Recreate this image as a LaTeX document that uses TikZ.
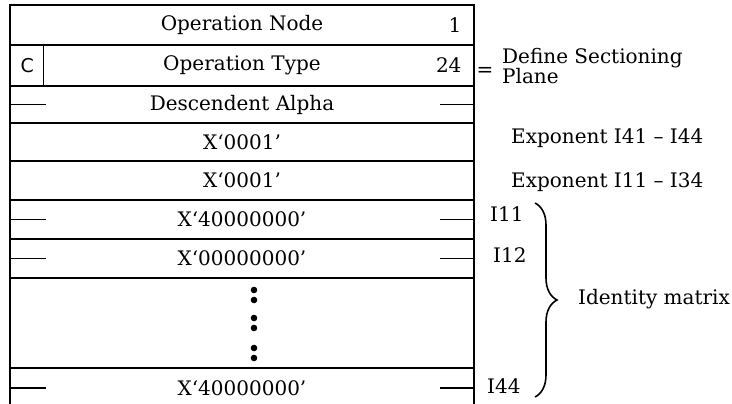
\documentclass[tikz,border=0pt]{standalone}
\usepackage{fontspec}
\setmainfont{DejaVu Serif}
\setsansfont{DejaVu Sans}
\usetikzlibrary{positioning,decorations.pathreplacing}

\begin{document}
\begin{tikzpicture}[x=1pt,y=-1pt,
    font=\fontsize{20}{21}\selectfont,
    field/.style={draw, line width=1.4pt, minimum width=464pt, inner sep=0pt, outer sep=0pt},
    tick/.style={line width=1.4pt},
    note/.style={anchor=west, inner sep=0pt}]
  \useasboundingbox (0,0) rectangle (732,404);
  % record layout
  \node[field, minimum height=40pt] (opnode) at (242,25) {Operation Node};
  \node[field, minimum height=41pt, below=0pt of opnode] (optype) {Operation Type};
  \node[field, minimum height=37pt, below=0pt of optype] (descalpha) {Descendent Alpha};
  \node[field, minimum height=38pt, below=0pt of descalpha] (expa) {X`0001'};
  \node[field, minimum height=39pt, below=0pt of expa] (expb) {X`0001'};
  \node[field, minimum height=39pt, below=0pt of expb] (ione) {X`40000000'};
  \node[field, minimum height=39pt, below=0pt of ione] (itwo) {X`00000000'};
  \node[field, minimum height=90pt, below=0pt of itwo] (dots) {};
  \node[field, minimum height=40pt, below=0pt of dots] (ilast) {X`40000000'};
  \node[anchor=east] (nodenum) at ([xshift=-9pt]opnode.east) {1};
  \node[anchor=east] (typenum) at ([xshift=-9pt]optype.east) {24};
  \node[draw, line width=1.4pt, anchor=west, minimum width=33pt, minimum height=41pt,
        inner sep=0pt, font=\sffamily\fontsize{19}{20}\selectfont] (cflag) at (optype.west) {C};
  \foreach \r in {descalpha,ione,itwo,ilast} {
    \draw[tick] (\r.west) -- ++(36,0);
    \draw[tick] (\r.east) -- ++(-34,0);
  }
  \foreach \y in {290,300,318,328,348,358}
    \fill (254,\y) circle (3.3pt);
  % annotations
  \node (eq) at (485,72) {=};
  \node[note, align=left, font=\fontsize{20}{18}\selectfont] (plane) at (502,66) {Define Sectioning\\Plane};
  \node[anchor=base west, inner sep=0pt] (expnotea) at (511,143) {Exponent I41 -- I44};
  \node[anchor=base west, inner sep=0pt] (expnoteb) at (511,187) {Exponent I11 -- I34};
  \node[note] (lone) at (490,214) {I11};
  \node[note] (ltwo) at (493,255) {I12};
  \node[note] (llast) at (487,386) {I44};
  \draw[line width=1.6pt, decorate, decoration={brace, amplitude=22pt, aspect=0.5}]
    (535,203) -- (535,397);
  \node[note] (ident) at (578,299) {Identity matrix};
\end{tikzpicture}
\end{document}
